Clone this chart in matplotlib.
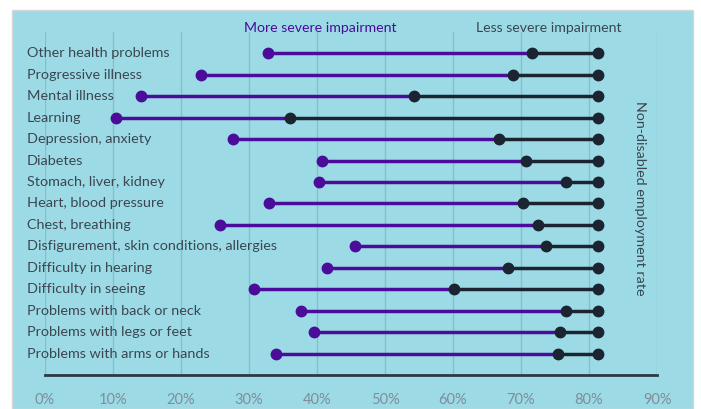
import matplotlib.pyplot as plt
from matplotlib.patches import Rectangle
import matplotlib.transforms as mtransforms

# employment rate by type of health problem (%)
conditions = ["Other health problems", "Progressive illness", "Mental illness", "Learning",
              "Depression, anxiety", "Diabetes", "Stomach, liver, kidney", "Heart, blood pressure",
              "Chest, breathing", "Disfigurement, skin conditions, allergies", "Difficulty in hearing",
              "Difficulty in seeing", "Problems with back or neck", "Problems with legs or feet",
              "Problems with arms or hands"]
more_severe = [32.8, 22.9, 14.1, 10.5, 27.6, 40.7, 40.3, 33.0, 25.7, 45.6, 41.4, 30.8, 37.7, 39.5, 34.0]
less_severe = [71.6, 68.8, 54.3, 36.1, 66.8, 70.7, 76.6, 70.3, 72.5, 73.7, 68.1, 60.1, 76.6, 75.7, 75.4]
non_disabled = 81.3
xticks = [0, 10, 20, 30, 40, 50, 60, 70, 80, 90]

bg = "#9cdbe6"
purple = "#4a0c99"
dark = "#1b2430"
grid_c = "#84c0cb"
text_c = "#3b4650"

plt.rcParams['font.family'] = ['Lato', 'DejaVu Sans']

fig = plt.figure(figsize=(7.01, 4.09), dpi=100)
fig.patch.set_facecolor("white")
panel = Rectangle((12 / 701, 0), 681 / 701, 399 / 409, transform=fig.transFigure,
                  facecolor=bg, edgecolor="#d6d6d6", linewidth=1, zorder=-5)
fig.patches.append(panel)

ax = fig.add_axes([45 / 701, 34 / 409, 612 / 701, 343 / 409])
ax.set_facecolor("none")
ax.set_zorder(1)
n = len(conditions)
ax.set_xlim(0, 90)
ax.set_ylim(n - 1 + 0.977, -0.977)

for x in xticks:
    ax.axvline(x, color=grid_c, linewidth=1, zorder=1)

for i in range(n):
    ax.plot([more_severe[i], less_severe[i]], [i, i], color=purple, linewidth=2.5, zorder=2,
            solid_capstyle="butt")
    ax.plot([less_severe[i], non_disabled], [i, i], color=dark, linewidth=2.5, zorder=2,
            solid_capstyle="butt")
    ax.plot(more_severe[i], i, "o", color=purple, markersize=7.5, zorder=3)
    ax.plot([less_severe[i], non_disabled], [i, i], "o", color=dark, markersize=7.5,
            linestyle="none", zorder=3)

trans = mtransforms.blended_transform_factory(fig.transFigure, ax.transData)
for i, name in enumerate(conditions):
    ax.text(27 / 701, i, name, transform=trans, ha="left", va="center", fontsize=10.4,
            color=text_c, clip_on=False)

for spine in ["top", "right", "left"]:
    ax.spines[spine].set_visible(False)
ax.spines["bottom"].set_color("#2a3a44")
ax.spines["bottom"].set_linewidth(2)
ax.set_yticks([])
ax.set_xticks(xticks)
ax.set_xticklabels([f"{x}%" for x in xticks], fontsize=10.5, color="#7e8e98")
ax.tick_params(axis="x", length=0, pad=13)

fig.text(320 / 701, 1 - 28 / 409, "More severe impairment", color=purple, fontsize=10.2,
         ha="center", va="center")
fig.text(549 / 701, 1 - 28 / 409, "Less severe impairment", color=text_c, fontsize=10.2,
         ha="center", va="center")
fig.text(640 / 701, 1 - 198 / 409, "Non-disabled employment rate", color=text_c, fontsize=10.3,
         ha="center", va="center", rotation=270)

fig.savefig("out.png", dpi=100, facecolor=fig.get_facecolor())
